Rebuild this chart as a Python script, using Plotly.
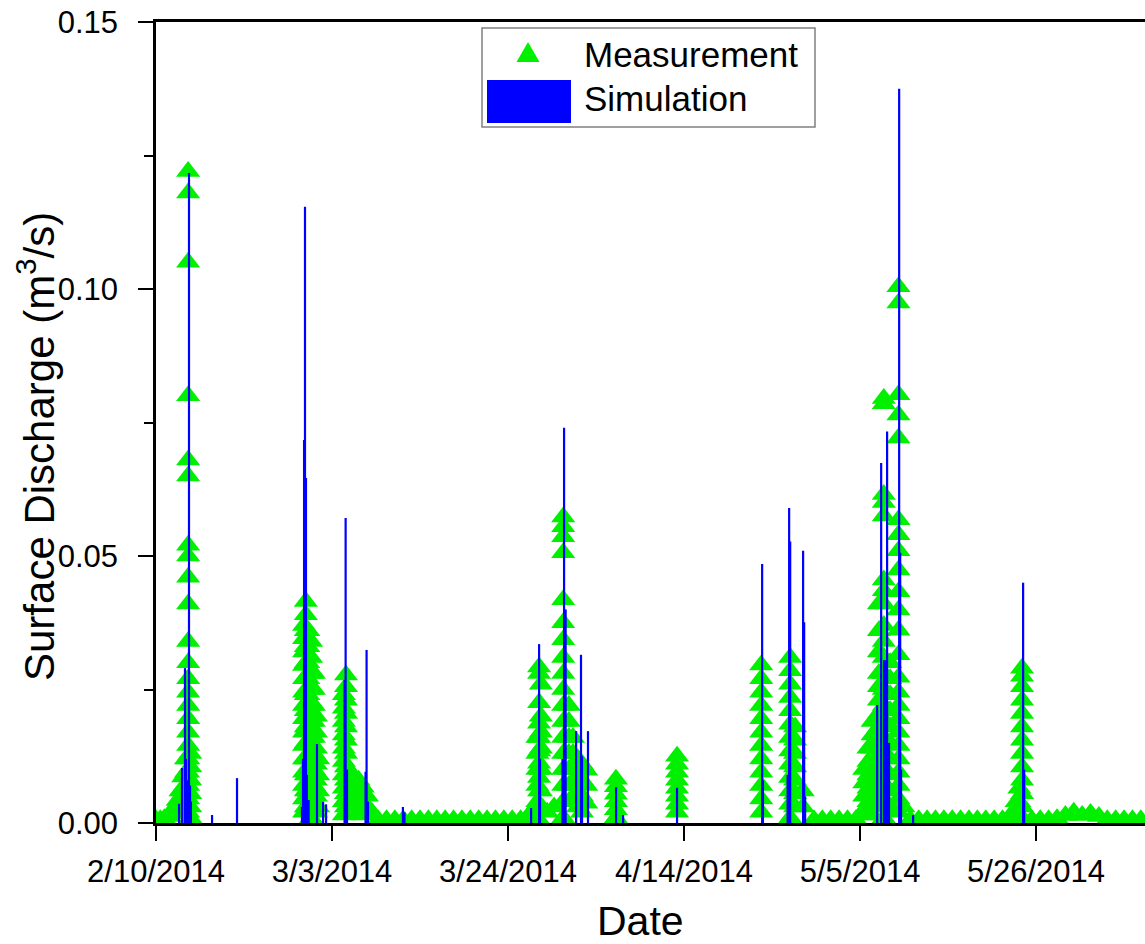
import plotly.graph_objects as go

# ---------------------------------------------------------------------------
# Measured surface discharge (m3/s). Each logging time carries the readings
# recorded in that interval.
# ---------------------------------------------------------------------------
feb_times = [
    "2014-02-10 00:00", "2014-02-10 12:00", "2014-02-11 00:00", "2014-02-11 12:00",
    "2014-02-11 20:00", "2014-02-12 06:00", "2014-02-12 14:00", "2014-02-12 22:00",
    "2014-02-13 06:00", "2014-02-13 14:00", "2014-02-13 20:00", "2014-02-14 02:00",
    "2014-02-27 16:00", "2014-02-27 21:00", "2014-02-28 04:00", "2014-02-28 12:00",
    "2014-02-28 20:00",
]
feb_values = [
    [0.0006], [0.0006], [0.0008], [0.0012],
    [0.0020], [0.0030], [0.0042, 0.0018], [0.0060, 0.0030],
    [0.0086, 0.0055, 0.0025],
    [0.0120, 0.0095, 0.0070, 0.0045, 0.0020],
    [0.1220, 0.1180, 0.1050, 0.0800, 0.0680, 0.0650, 0.0520, 0.0500, 0.0460, 0.0410,
     0.0340, 0.0300, 0.0270, 0.0245, 0.0220, 0.0195, 0.0170, 0.0145, 0.0120, 0.0095,
     0.0070, 0.0045, 0.0020],
    [0.0130, 0.0105, 0.0080, 0.0055, 0.0030, 0.0010],
    [0.0370, 0.0345, 0.0320, 0.0295, 0.0270, 0.0245, 0.0220, 0.0195, 0.0170, 0.0145,
     0.0120, 0.0095, 0.0070, 0.0045, 0.0020],
    [0.0415, 0.0390, 0.0360, 0.0330, 0.0300, 0.0270, 0.0240, 0.0210, 0.0180, 0.0150,
     0.0120, 0.0090, 0.0060, 0.0030],
    [0.0360, 0.0330, 0.0300, 0.0270, 0.0240, 0.0210, 0.0180, 0.0150, 0.0120, 0.0090,
     0.0060, 0.0030],
    [0.0340, 0.0310, 0.0280, 0.0250, 0.0220, 0.0190, 0.0160, 0.0130, 0.0100, 0.0070,
     0.0040, 0.0010],
    [0.0280, 0.0250, 0.0220, 0.0190, 0.0160, 0.0130, 0.0100, 0.0070, 0.0040],
]

mar_times = [
    "2014-03-01 02:00", "2014-03-01 08:00", "2014-03-04 10:00", "2014-03-04 16:00",
    "2014-03-05 12:00", "2014-03-06 04:00", "2014-03-06 16:00", "2014-03-07 04:00",
    "2014-03-07 18:00",
    "2014-03-08 12:00", "2014-03-09 12:00", "2014-03-10 12:00", "2014-03-11 12:00",
    "2014-03-12 12:00", "2014-03-13 12:00", "2014-03-14 12:00", "2014-03-15 12:00",
    "2014-03-16 12:00", "2014-03-17 12:00", "2014-03-18 12:00", "2014-03-19 12:00",
    "2014-03-20 12:00", "2014-03-21 12:00", "2014-03-22 12:00", "2014-03-23 12:00",
    "2014-03-24 12:00", "2014-03-25 12:00",
    "2014-03-26 12:00", "2014-03-27 12:00", "2014-03-27 17:00", "2014-03-27 22:00",
    "2014-03-28 16:00", "2014-03-29 12:00", "2014-03-30 14:00", "2014-03-31 06:00",
    "2014-03-31 18:00",
]
mar_values = [
    [0.0200, 0.0170, 0.0140, 0.0110, 0.0080, 0.0050, 0.0020],
    [0.0120, 0.0090, 0.0060, 0.0030],
    [0.0240, 0.0215, 0.0190, 0.0165, 0.0140, 0.0115, 0.0090, 0.0065, 0.0040, 0.0015],
    [0.0277, 0.0255, 0.0230, 0.0205, 0.0180, 0.0155, 0.0130, 0.0105, 0.0080, 0.0055,
     0.0030],
    [0.0090, 0.0060, 0.0030],
    [0.0080, 0.0050, 0.0020],
    [0.0067, 0.0040, 0.0015],
    [0.0050, 0.0020],
    [0.0020],
    [0.0006], [0.0006], [0.0006], [0.0006], [0.0006], [0.0006], [0.0006], [0.0006],
    [0.0006], [0.0006], [0.0006], [0.0006], [0.0006], [0.0006], [0.0006], [0.0006],
    [0.0006], [0.0006],
    [0.0015],
    [0.0160, 0.0130, 0.0100, 0.0070, 0.0040, 0.0010],
    [0.0292, 0.0280, 0.0225, 0.0187, 0.0160, 0.0135, 0.0112, 0.0085, 0.0060, 0.0035],
    [0.0260, 0.0200, 0.0170, 0.0140, 0.0100, 0.0060, 0.0030],
    [0.0020],
    [0.0030],
    [0.0573, 0.0555, 0.0536, 0.0506, 0.0418, 0.0375, 0.0343, 0.0310, 0.0280, 0.0250,
     0.0220, 0.0190, 0.0160, 0.0130, 0.0100, 0.0070, 0.0040, 0.0010],
    [0.0220, 0.0190, 0.0160, 0.0130, 0.0100, 0.0070, 0.0040],
    [0.0160, 0.0130, 0.0100, 0.0070, 0.0040],
]

apr_times = [
    "2014-04-01 08:00", "2014-04-01 20:00", "2014-04-02 08:00", "2014-04-05 21:00",
    "2014-04-13 04:00", "2014-04-23 05:00", "2014-04-26 16:00", "2014-04-27 06:00",
    "2014-04-28 04:00", "2014-04-29 12:00", "2014-04-30 12:00",
]
apr_values = [
    [0.0120, 0.0090, 0.0060, 0.0030],
    [0.0110, 0.0080, 0.0050, 0.0020],
    [0.0099, 0.0070, 0.0037],
    [0.0082, 0.0068, 0.0054, 0.0040, 0.0025, 0.0010],
    [0.0125, 0.0110, 0.0095, 0.0080, 0.0065, 0.0050, 0.0035, 0.0020],
    [0.0296, 0.0270, 0.0245, 0.0220, 0.0195, 0.0170, 0.0145, 0.0120, 0.0095, 0.0070,
     0.0045, 0.0020],
    [0.0310, 0.0285, 0.0260, 0.0235, 0.0210, 0.0185, 0.0160, 0.0135, 0.0110, 0.0085,
     0.0060, 0.0035, 0.0010],
    [0.0180, 0.0155, 0.0130, 0.0105, 0.0080, 0.0055, 0.0030],
    [0.0060, 0.0030],
    [0.0006], [0.0006],
]

may_times = [
    "2014-05-01 12:00", "2014-05-02 12:00", "2014-05-03 12:00", "2014-05-04 12:00",
    "2014-05-05 12:00", "2014-05-06 00:00", "2014-05-06 12:00", "2014-05-07 06:00",
    "2014-05-07 20:00", "2014-05-08 14:00", "2014-05-09 14:00", "2014-05-10 04:00",
    "2014-05-11 00:00", "2014-05-12 00:00", "2014-05-13 00:00", "2014-05-14 00:00",
    "2014-05-15 00:00", "2014-05-16 00:00", "2014-05-17 00:00", "2014-05-18 00:00",
    "2014-05-19 00:00", "2014-05-20 00:00", "2014-05-21 00:00", "2014-05-22 00:00",
    "2014-05-22 19:00", "2014-05-23 06:00", "2014-05-23 16:00", "2014-05-24 00:00",
    "2014-05-24 08:00",
    "2014-05-25 12:00", "2014-05-26 12:00", "2014-05-27 12:00", "2014-05-28 12:00",
    "2014-05-29 12:00", "2014-05-30 12:00", "2014-05-31 12:00",
]
may_values = [
    [0.0006], [0.0006], [0.0006], [0.0006],
    [0.0100, 0.0075, 0.0050, 0.0025],
    [0.0140, 0.0115, 0.0090, 0.0065, 0.0040, 0.0015],
    [0.0190, 0.0165, 0.0140, 0.0115, 0.0090, 0.0065, 0.0040, 0.0015],
    [0.0410, 0.0360, 0.0320, 0.0280, 0.0255, 0.0230, 0.0205, 0.0180, 0.0155, 0.0130,
     0.0105, 0.0080, 0.0055, 0.0030],
    [0.0795, 0.0785, 0.0615, 0.0600, 0.0575, 0.0455, 0.0435, 0.0410, 0.0370, 0.0340,
     0.0310, 0.0280, 0.0250, 0.0220, 0.0190, 0.0160, 0.0130, 0.0100, 0.0070, 0.0040,
     0.0010],
    [0.0300, 0.0270, 0.0240, 0.0210, 0.0180, 0.0150, 0.0120, 0.0090, 0.0060, 0.0030],
    [0.1004, 0.0974, 0.0802, 0.0764, 0.0721, 0.0568, 0.0540, 0.0510, 0.0474, 0.0433,
     0.0399, 0.0361, 0.0315, 0.0273, 0.0245, 0.0220, 0.0195, 0.0170, 0.0145, 0.0120,
     0.0095, 0.0070, 0.0045, 0.0020],
    [0.0030],
    [0.0006], [0.0006], [0.0006], [0.0006], [0.0006], [0.0006], [0.0006], [0.0006],
    [0.0006], [0.0006], [0.0006], [0.0006],
    [0.0010], [0.0020], [0.0040, 0.0015], [0.0065, 0.0040, 0.0015],
    [0.0290, 0.0275, 0.0255, 0.0230, 0.0205, 0.0180, 0.0155, 0.0130, 0.0105, 0.0080,
     0.0055, 0.0030, 0.0010],
    [0.0006], [0.0006], [0.0006], [0.0008], [0.0014], [0.0020], [0.0014],
]

jun_times = [
    "2014-06-01 12:00", "2014-06-02 12:00", "2014-06-03 12:00", "2014-06-04 12:00",
    "2014-06-05 12:00", "2014-06-06 12:00", "2014-06-07 12:00", "2014-06-08 12:00",
]
jun_values = [
    [0.0018], [0.0012], [0.0006], [0.0006], [0.0006], [0.0006], [0.0006], [0.0006],
]

# ---------------------------------------------------------------------------
# Simulated surface discharge (m3/s)
# ---------------------------------------------------------------------------
sim_time = [
    "2014-02-12 18:00", "2014-02-13 02:30", "2014-02-13 11:00", "2014-02-13 14:00",
    "2014-02-13 17:00", "2014-02-13 19:40", "2014-02-13 22:30", "2014-02-14 01:30",
    "2014-02-14 04:00", "2014-02-16 16:30", "2014-02-19 16:00",
    "2014-02-27 10:00", "2014-02-27 13:00", "2014-02-27 16:00", "2014-02-27 18:40",
    "2014-02-27 21:30", "2014-02-28 00:00", "2014-02-28 05:00", "2014-03-01 05:00",
    "2014-03-01 22:30", "2014-03-02 07:00", "2014-03-04 12:00", "2014-03-04 15:00",
    "2014-03-04 19:00", "2014-03-07 00:00", "2014-03-07 03:00", "2014-03-07 07:00",
    "2014-03-11 11:00", "2014-03-11 15:30",
    "2014-03-26 18:00", "2014-03-27 17:00", "2014-03-27 19:40", "2014-03-30 12:00",
    "2014-03-30 16:30", "2014-03-30 21:00", "2014-04-01 03:00", "2014-04-01 17:00",
    "2014-04-01 20:00", "2014-04-02 13:00", "2014-04-05 21:30", "2014-04-06 17:30",
    "2014-04-13 04:00",
    "2014-04-23 07:40", "2014-04-23 10:00", "2014-04-26 08:40", "2014-04-26 13:00",
    "2014-04-26 16:00", "2014-04-28 05:00", "2014-04-28 08:00", "2014-04-28 10:45",
    "2014-05-07 01:00", "2014-05-07 12:30", "2014-05-07 21:00", "2014-05-08 02:30",
    "2014-05-08 05:30", "2014-05-08 11:00", "2014-05-09 16:00", "2014-05-09 19:00",
    "2014-05-09 21:30", "2014-05-11 08:00",
    "2014-05-24 11:00", "2014-05-24 14:00",
]
sim_q = [
    0.0036, 0.0103, 0.0290, 0.0120,
    0.0080, 0.0060, 0.1217, 0.0070,
    0.0040, 0.0015, 0.0084,
    0.0030, 0.0120, 0.0717, 0.1154,
    0.0646, 0.0090, 0.0043, 0.0148,
    0.0040, 0.0035, 0.0268, 0.0571,
    0.0100, 0.0096, 0.0324, 0.0040,
    0.0030, 0.0020,
    0.0028, 0.0335, 0.0120, 0.0120,
    0.0740, 0.0400, 0.0172, 0.0315,
    0.0125, 0.0172, 0.0067, 0.0015,
    0.0066,
    0.0485, 0.0080, 0.0090, 0.0590,
    0.0527, 0.0510, 0.0376, 0.0050,
    0.0221, 0.0674, 0.0305, 0.0305,
    0.0733, 0.0150, 0.1375, 0.0506,
    0.0100, 0.0015,
    0.0450, 0.0100,
]

# Axis ticks
tick_dates = ["2014-02-10", "2014-03-03", "2014-03-24", "2014-04-14", "2014-05-05", "2014-05-26"]
tick_labels = ["2/10/2014", "3/3/2014", "3/24/2014", "4/14/2014", "5/5/2014", "5/26/2014"]
y_ticks = [0.0, 0.05, 0.10, 0.15]
y_minor_ticks = [0.025, 0.075, 0.125]

GREEN = "#00f000"
BLUE = "#0000ff"
FONT = "Liberation Sans, Arial, sans-serif"

# Flatten the measurement readings into x/y pairs
all_times = feb_times + mar_times + apr_times + may_times + jun_times
all_values = feb_values + mar_values + apr_values + may_values + jun_values
meas_x = [t for t, vals in zip(all_times, all_values) for _ in vals]
meas_y = [v for vals in all_values for v in vals]

fig = go.Figure()

fig.add_trace(go.Scatter(
    x=meas_x, y=meas_y, mode="markers", name="Measurement", showlegend=False,
    marker=dict(symbol="triangle-up", size=21, color=GREEN, line=dict(width=0)),
))

# Simulation drawn as thin vertical spikes from zero up to each value
fig.add_trace(go.Scatter(
    x=sim_time, y=sim_q, mode="markers", name="Simulation", showlegend=False,
    marker=dict(size=1, color="rgba(0,0,255,0)"),
    error_y=dict(type="data", symmetric=False, array=[0] * len(sim_q),
                 arrayminus=sim_q, width=0, thickness=2.2, color=BLUE),
))

# Plot-area geometry (pixels) used to place the legend box
L, R, T, B = 156, 1145, 22, 823
W, H = R - L, B - T


def px(x):
    return (x - L) / W


def py(y):
    return (B - y) / H


shapes = [
    dict(type="rect", xref="paper", yref="paper",
         x0=px(482), x1=px(815), y0=py(127), y1=py(28),
         line=dict(color="#808080", width=1.5), fillcolor="white", layer="above"),
    dict(type="path", xref="paper", yref="paper",
         path=f"M{px(516.5)},{py(62)} L{px(539.5)},{py(62)} L{px(528)},{py(42)} Z",
         fillcolor=GREEN, line=dict(width=0), layer="above"),
    dict(type="rect", xref="paper", yref="paper",
         x0=px(487), x1=px(571), y0=py(123), y1=py(80),
         fillcolor=BLUE, line=dict(width=0), layer="above"),
]

annotations = [
    dict(text="Measurement", x=px(582), y=py(55), xref="paper", yref="paper",
         xanchor="left", yanchor="middle", showarrow=False,
         font=dict(family=FONT, size=35, color="black")),
    dict(text="Simulation", x=px(582), y=py(98), xref="paper", yref="paper",
         xanchor="left", yanchor="middle", showarrow=False,
         font=dict(family=FONT, size=35, color="black")),
    dict(text="Date", x=px(640), y=py(921), xref="paper", yref="paper",
         xanchor="center", yanchor="middle", showarrow=False,
         font=dict(family=FONT, size=41, color="black")),
    dict(text="Surface Discharge (m<sup>3</sup>/s)", x=px(36), y=py(447),
         xref="paper", yref="paper", xanchor="center", yanchor="middle",
         textangle=-90, showarrow=False,
         font=dict(family=FONT, size=42, color="black")),
]

fig.update_layout(
    width=1145, height=944,
    margin=dict(l=L, r=1145 - R, t=T, b=944 - B),
    paper_bgcolor="white", plot_bgcolor="white",
    showlegend=False,
    shapes=shapes, annotations=annotations,
    font=dict(family=FONT, color="black"),
)

fig.update_xaxes(
    type="date", range=["2014-02-10", "2014-06-08"],
    tickmode="array", tickvals=tick_dates, ticktext=tick_labels,
    ticks="outside", ticklen=15, tickwidth=2, tickcolor="black",
    showline=True, linecolor="black", linewidth=2.5, mirror=True,
    showgrid=False, zeroline=False,
    tickfont=dict(family=FONT, size=31, color="black"),
    ticklabelstandoff=4,
)

fig.update_yaxes(
    range=[0, 0.15], tickmode="array", tickvals=y_ticks,
    ticktext=[f"{v:.2f}" for v in y_ticks],
    ticks="outside", ticklen=15, tickwidth=2, tickcolor="black",
    minor=dict(tickmode="array", tickvals=y_minor_ticks, ticks="outside",
               ticklen=9, tickwidth=2, tickcolor="black"),
    showline=True, linecolor="black", linewidth=2.5,
    showgrid=False, zeroline=False,
    tickfont=dict(family=FONT, size=31, color="black"),
    ticklabelstandoff=14,
)

fig.write_html("out.html")
